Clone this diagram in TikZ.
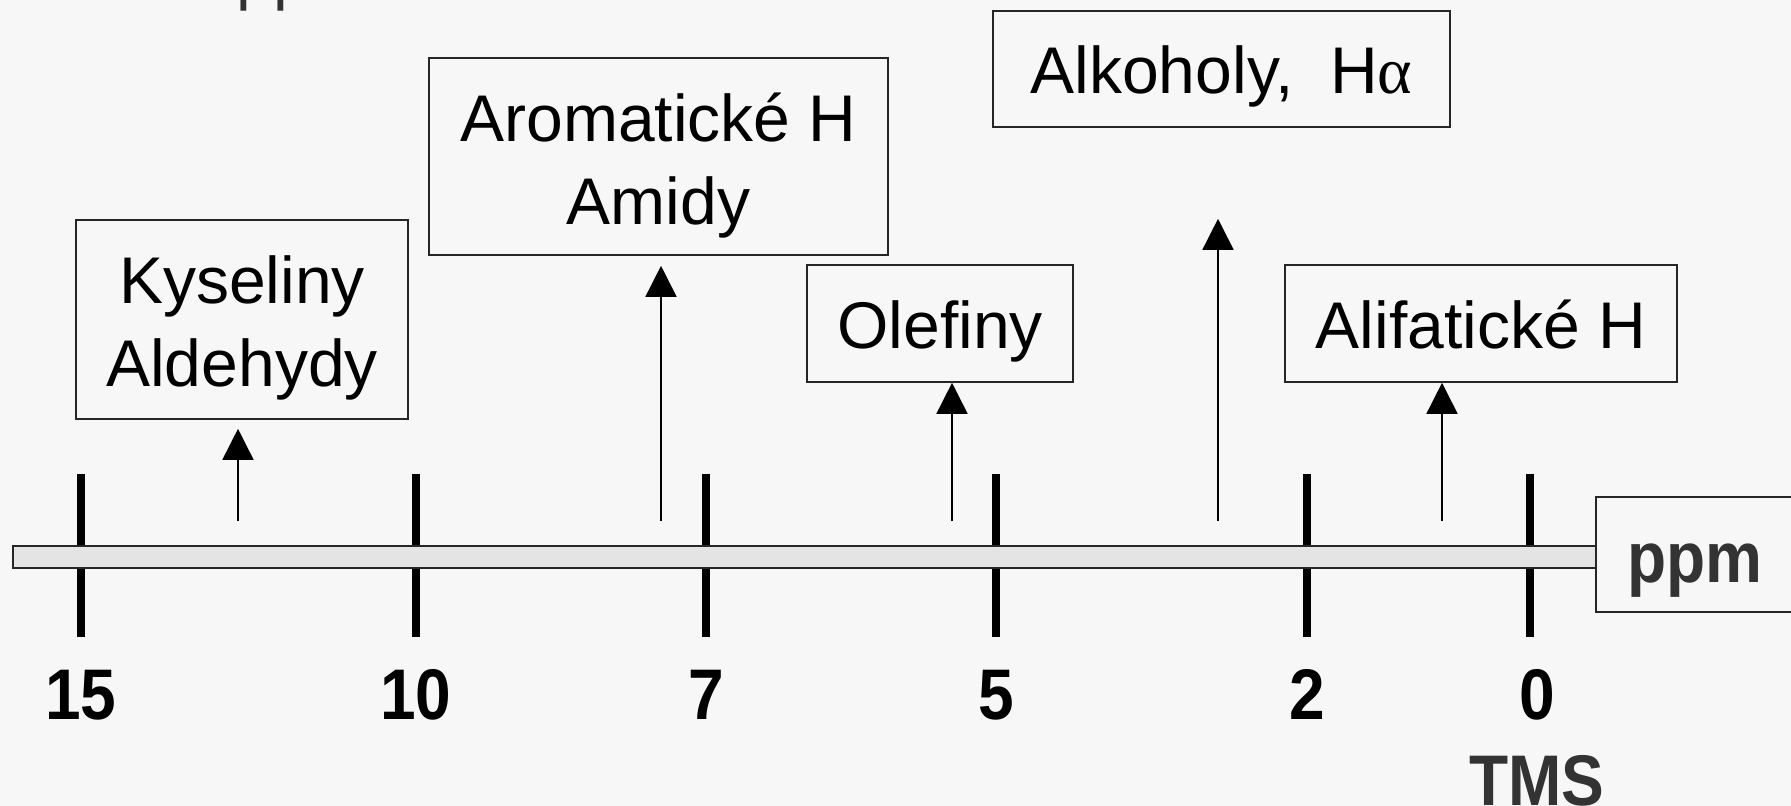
\documentclass[tikz,border=0pt]{standalone}
\usepackage{fontspec}
\setmainfont{Liberation Sans}
\newfontfamily\serifgreek{Liberation Serif}
\usetikzlibrary{arrows.meta}
\definecolor{bg}{HTML}{F7F7F7}
\definecolor{barfill}{HTML}{E4E4E4}
\definecolor{dgray}{HTML}{333333}
\begin{document}
\begin{tikzpicture}[x=0.5pt,y=-0.5pt,
  lbox/.style={draw=black!85, line width=0.8pt, fill=bg, inner sep=0pt, align=center,
    font=\fontsize{33}{41.5}\selectfont, text depth=0pt},
  tickmark/.style={line width=3.6pt},
  num/.style={font=\fontsize{32}{32}\selectfont\bfseries, inner sep=0pt, anchor=base},
  arr/.style={line width=0.8pt, -{Triangle[width=15.5pt,length=15.5pt]}},
]
\useasboundingbox (0,0) rectangle (1791,806);
\clip (0,0) rectangle (1791,806);
\fill[bg] (0,0) rectangle (1791,806);

% partial text cut by the top edge
\node[anchor=base west, inner sep=0pt, text=dgray, font=\fontsize{33}{33}\selectfont] (toptxt) at (236.5,-2) {pp};

% ticks
\draw[tickmark] (81,474) -- (81,637);
\draw[tickmark] (416,474) -- (416,637);
\draw[tickmark] (706,474) -- (706,637);
\draw[tickmark] (996,474) -- (996,637);
\draw[tickmark] (1307,474) -- (1307,637);
\draw[tickmark] (1530,474) -- (1530,637);

% axis bar
\draw[fill=barfill, line width=0.8pt, draw=black!85] (13,546) rectangle (1596,568);

% ppm box
\node[lbox, minimum width=99pt, minimum height=57.5pt, text height=27.5pt,
  font=\fontsize{32}{32}\selectfont\bfseries, text=dgray] (ppm) at (1695,554.5) {\scalebox{1}[1.12]{ppm}};

% tick labels
\node[num] (n15) at (81,719) {\scalebox{1}[1.12]{15}};
\node[num] (n10) at (416,719) {\scalebox{1}[1.12]{10}};
\node[num] (n7) at (706,719) {\scalebox{1}[1.12]{7}};
\node[num] (n5) at (996,719) {\scalebox{1}[1.12]{5}};
\node[num] (n2) at (1307,719) {\scalebox{1}[1.12]{2}};
\node[num] (n0) at (1537,719) {\scalebox{1}[1.12]{0}};
\node[num, text=dgray] (tms) at (1537,805) {\scalebox{1}[1.12]{TMS}};

% label boxes
\node[lbox, minimum width=166pt, minimum height=99.5pt, text height=67.5pt] (kys) at (242,319.5) {Kyseliny\\Aldehydy};
\node[lbox, minimum width=229.5pt, minimum height=98.5pt, text height=68.5pt] (aro) at (658.5,156.5) {Aromatické H\\Amidy};
\node[lbox, minimum width=133pt, minimum height=58.5pt, text height=25.5pt] (ole) at (940,323.5) {Olefiny};
\node[lbox, minimum width=228.5pt, minimum height=58pt, text height=25pt] (alk) at (1221.5,69) {Alkoholy,\ \ H{\serifgreek α}};
\node[lbox, minimum width=196pt, minimum height=58.5pt, text height=25.5pt] (ali) at (1481,323.5) {Alifatické H};

% arrows
\coordinate (s1) at (238,521);
\coordinate (s2) at (661,521);
\coordinate (s3) at (952,521);
\coordinate (s4) at (1218,521);
\coordinate (s5) at (1442,521);
\draw[arr, shorten >=4.5pt] (s1) -- (s1 |- kys.south);
\draw[arr, shorten >=5pt] (s2) -- (s2 |- aro.south);
\draw[arr] (s3) -- (s3 |- ole.south);
\draw[arr, shorten >=45.5pt] (s4) -- (s4 |- alk.south);
\draw[arr] (s5) -- (s5 |- ali.south);
\end{tikzpicture}
\end{document}
